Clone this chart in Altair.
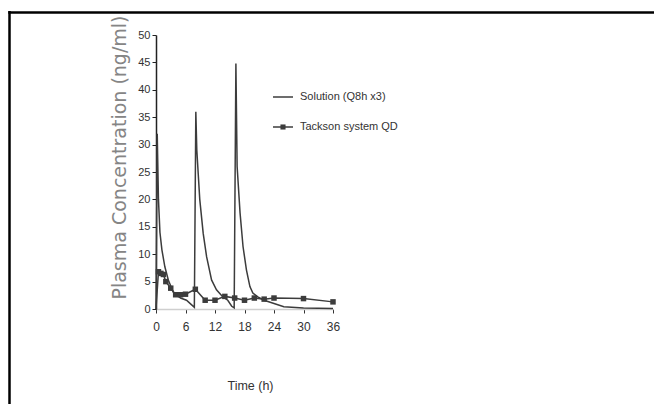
import altair as alt
import pandas as pd

# ---- data ----
series_names = ["Solution (Q8h x3)", "Tackson system  QD"]

sol_time = [0, 0.25, 0.5, 0.8, 1.2, 1.8, 2.5, 3.5, 5, 6.2, 7.2, 7.8,
            8.1, 8.3, 8.6, 8.9, 9.6, 10.3, 11.3, 12.3, 13.6, 14.6, 15.4, 15.9,
            16.25, 16.5, 17.1, 17.7, 18.4, 19.1, 19.7, 20.7, 22, 24, 26, 30, 36]
sol_conc = [0, 32, 20, 14, 10.8, 7.7, 5.3, 3.1, 2.0, 1.6, 0.8, 0.3,
            36, 29, 24.5, 20, 13.8, 9.5, 5.3, 3.5, 2.2, 1.6, 0.5, 0.2,
            44.8, 26, 17.5, 11.4, 7.1, 4.1, 2.9, 2.2, 1.6, 1.0, 0.4, 0.2, 0.1]

tack_time = [0, 0.5, 1, 1.5, 2, 3, 4, 5, 6, 8, 10, 12, 14, 16, 18, 20, 22, 24, 30, 36]
tack_conc = [0, 6.8, 6.5, 6.3, 5.0, 3.8, 2.6, 2.6, 2.7, 3.6, 1.6, 1.6, 2.3, 2.0,
             1.6, 2.0, 1.8, 2.0, 1.9, 1.3]

x_ticks = [0, 6, 12, 18, 24, 30, 36]
y_ticks = [0, 5, 10, 15, 20, 25, 30, 35, 40, 45, 50]

sol_df = pd.DataFrame({"t": sol_time, "c": sol_conc, "s": series_names[0]})
tack_df = pd.DataFrame({"t": tack_time, "c": tack_conc, "s": series_names[1]})

LINE = "#3c3c3c"
FONT = "Liberation Sans"

W, H = 177, 274
LEFT, TOP = 156, 35

x_enc = alt.X("t:Q", scale=alt.Scale(domain=[0, 36], nice=False),
              axis=alt.Axis(values=x_ticks, title="Time (h)", grid=False,
                            labelOverlap=False, labelFlush=False,
                            domainColor="#cfcfcf", domainWidth=1.5,
                            tickColor="#333", tickSize=4, labelPadding=8,
                            labelFont=FONT, labelFontSize=12, labelColor="#333",
                            titleFont=FONT, titleFontSize=12.5, titleColor="#333",
                            titleFontWeight="normal",
                            titleX=94, titleY=76, titleAlign="center",
                            titleBaseline="middle"))
y_enc = alt.Y("c:Q", scale=alt.Scale(domain=[0, 50], nice=False),
              axis=alt.Axis(values=y_ticks, title="Plasma Concentration (ng/ml)",
                            grid=False, labelOverlap=False, labelFlush=False,
                            domainColor="#222", domainWidth=1.5,
                            tickColor="#222", tickSize=4, labelPadding=2,
                            labelFont=FONT, labelFontSize=11, labelColor="#333",
                            titleFont="DejaVu Sans", titleFontSize=19,
                            titleColor="#858585", titleFontWeight="normal",
                            titleX=-37, titleY=122, titleAngle=270,
                            titleAlign="center", titleBaseline="middle"))

sol_line = alt.Chart(sol_df).mark_line(color=LINE, strokeWidth=1.5).encode(x=x_enc, y=y_enc)
tack_line = alt.Chart(tack_df).mark_line(color=LINE, strokeWidth=1.5).encode(x=x_enc, y=y_enc)
tack_pts = alt.Chart(tack_df).transform_filter("datum.c > 0").mark_point(
    shape="square", filled=True, size=30, color=LINE, opacity=1).encode(x=x_enc, y=y_enc)

# ---- legend (decoration) ----
leg1_line = alt.Chart(pd.DataFrame({"s": [series_names[0]]})).mark_rule(
    color=LINE, strokeWidth=1.5).encode(x=alt.value(117), x2=alt.value(137), y=alt.value(62))
leg1_text = alt.Chart(pd.DataFrame({"s": [series_names[0]]})).mark_text(
    align="left", baseline="middle", font=FONT, fontSize=11, color="#333").encode(
    x=alt.value(144), y=alt.value(62), text="s:N")
leg2_line = alt.Chart(pd.DataFrame({"s": [series_names[1]]})).mark_rule(
    color=LINE, strokeWidth=1.5).encode(x=alt.value(117), x2=alt.value(137), y=alt.value(92))
leg2_pt = alt.Chart(pd.DataFrame({"s": [series_names[1]]})).mark_point(
    shape="square", filled=True, size=26, color=LINE, opacity=1).encode(
    x=alt.value(127), y=alt.value(92))
leg2_text = alt.Chart(pd.DataFrame({"s": [series_names[1]]})).mark_text(
    align="left", baseline="middle", font=FONT, fontSize=11, color="#333").encode(
    x=alt.value(144), y=alt.value(92), text="s:N")

# ---- outer frame (decoration) ----
frame_df = pd.DataFrame({"k": [0]})
frame_left = alt.Chart(frame_df).mark_rule(color="#000", strokeWidth=2.5).encode(
    x=alt.value(9.5 - LEFT), y=alt.value(11 - TOP), y2=alt.value(404 - TOP))
frame_top = alt.Chart(frame_df).mark_rule(color="#000", strokeWidth=2.5).encode(
    x=alt.value(8.3 - LEFT), x2=alt.value(654 - LEFT), y=alt.value(12.5 - TOP))

chart = alt.layer(
    frame_left, frame_top,
    sol_line, tack_line, tack_pts,
    leg1_line, leg1_text, leg2_line, leg2_pt, leg2_text,
).properties(
    width=W, height=H,
    autosize=alt.AutoSizeParams(type="none"),
    padding={"left": LEFT, "top": TOP, "right": 654 - LEFT - W, "bottom": 404 - TOP - H},
    background="#ffffff",
).configure_view(stroke=None)

chart.save("out.html", embed_options={"renderer": "svg", "actions": False})
